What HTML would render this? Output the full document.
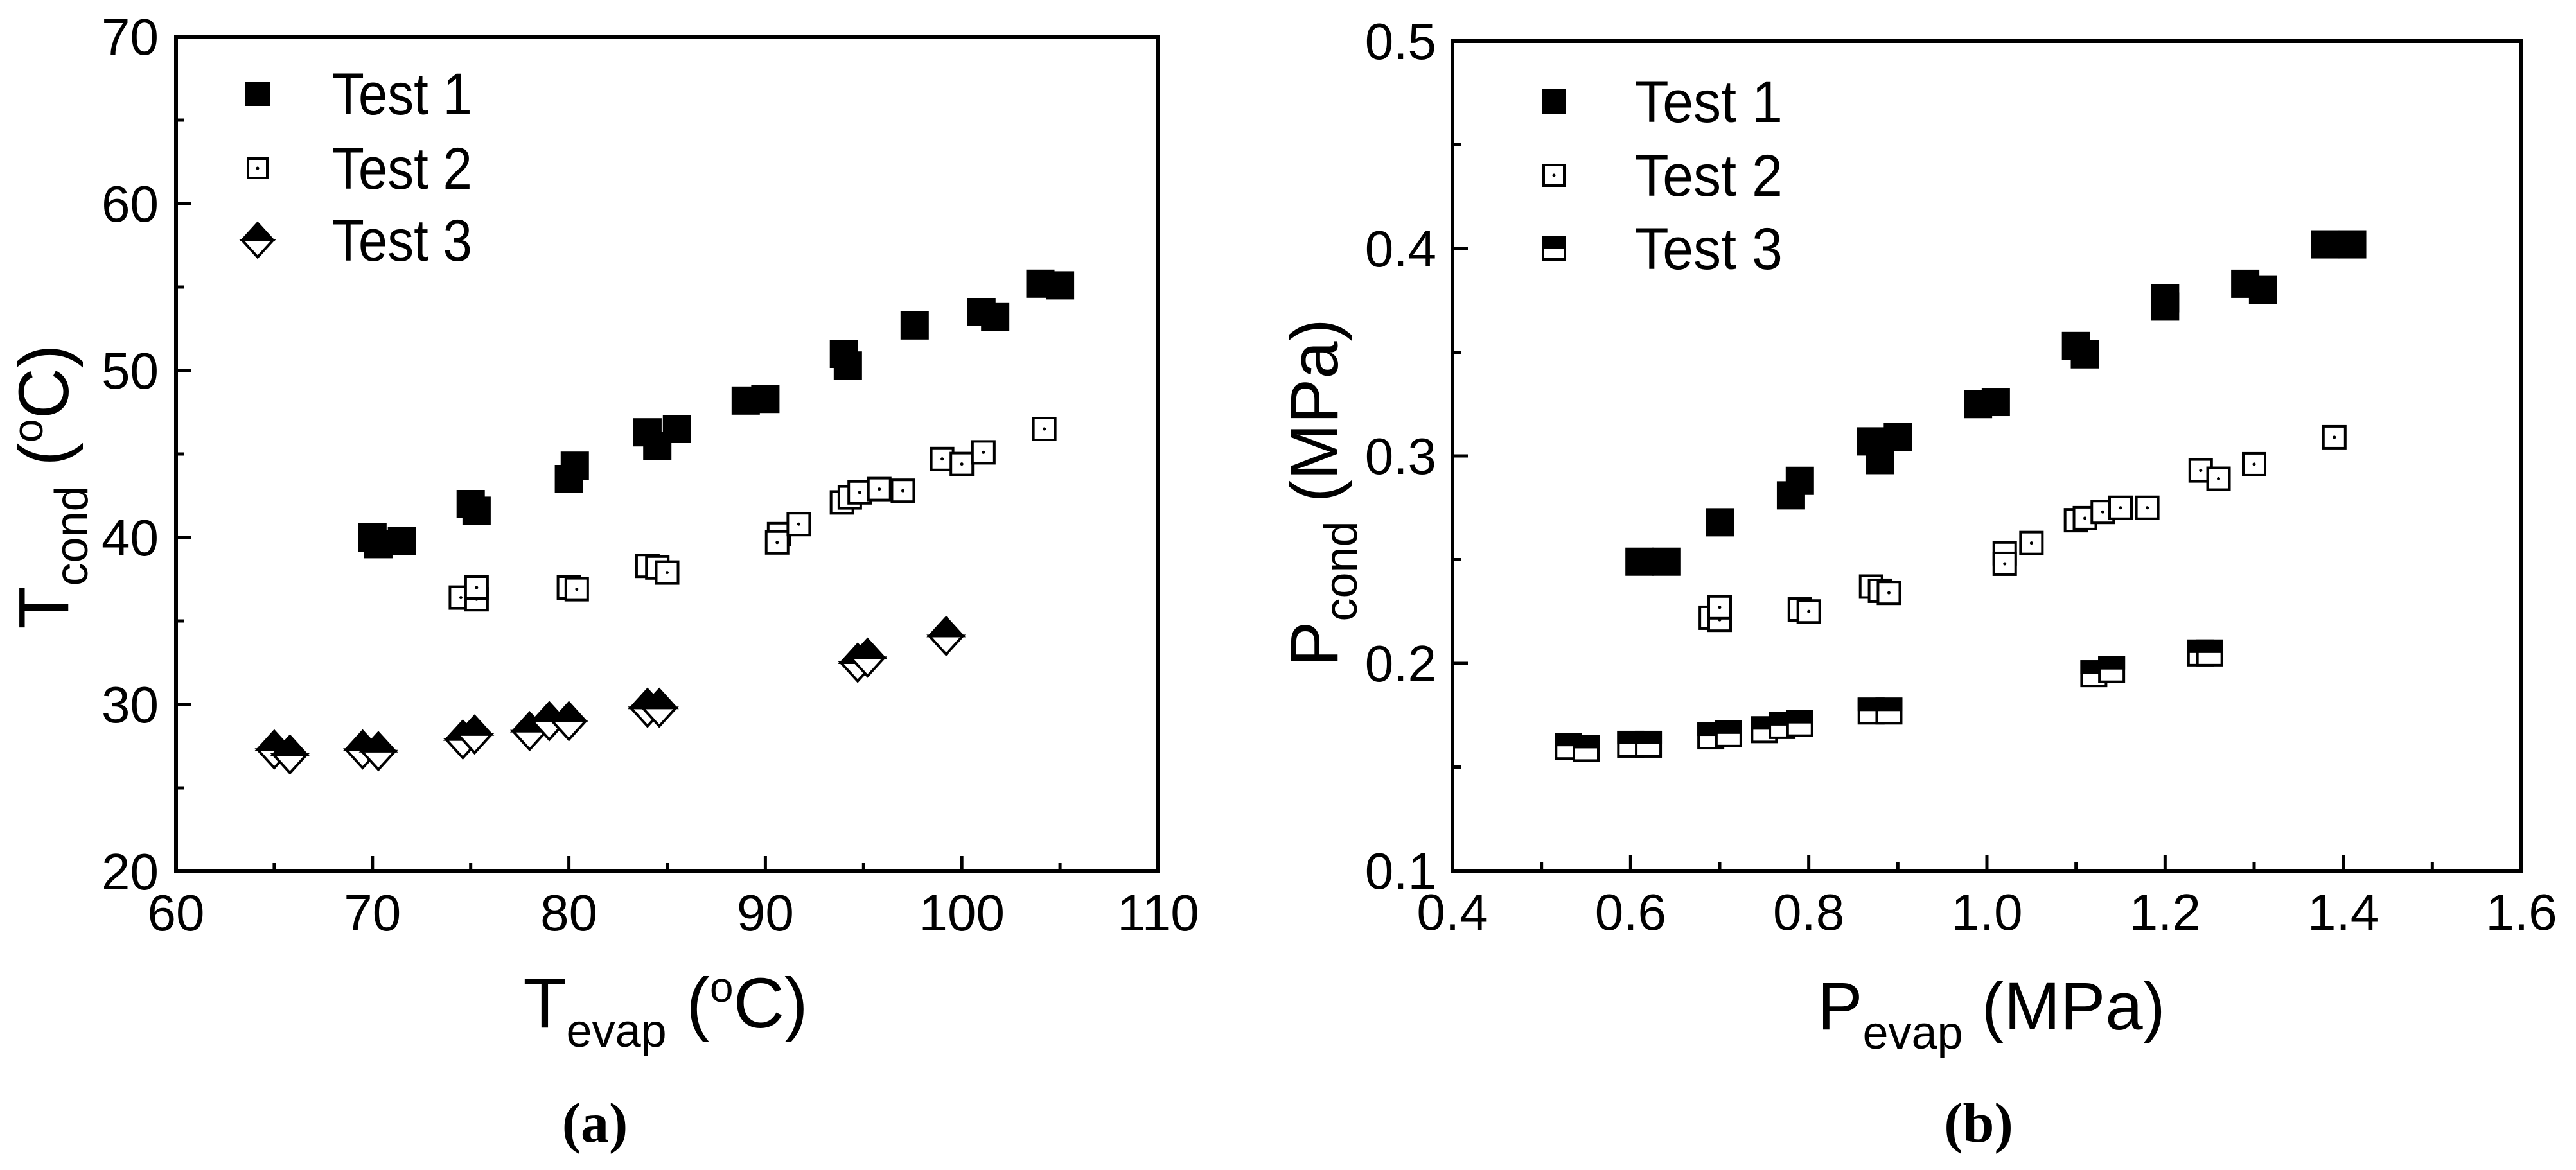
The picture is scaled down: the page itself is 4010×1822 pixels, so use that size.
<!DOCTYPE html>
<html><head><meta charset="utf-8"><style>
html,body{margin:0;padding:0;background:#fff;}
svg{display:block;}
text{font-family:"Liberation Sans",sans-serif;fill:#000;}
</style></head><body>
<svg id="fig" width="4010" height="1822" viewBox="0 0 4010 1822" xmlns="http://www.w3.org/2000/svg">
<g id="pa"></g>
<g id="pb"></g>
<text x="1036" y="1600" font-size="110" text-anchor="middle">T<tspan font-size="72" dy="30">evap</tspan><tspan dy="-30"> (</tspan><tspan font-size="66" dy="-40">o</tspan><tspan dy="40">C)</tspan></text>
<text transform="translate(106,758) rotate(-90)" font-size="110" text-anchor="middle">T<tspan font-size="72" dy="30">cond</tspan><tspan dy="-30"> (</tspan><tspan font-size="66" dy="-40">o</tspan><tspan dy="40">C)</tspan></text>
<text x="3100" y="1603" font-size="105" text-anchor="middle">P<tspan font-size="72" dy="30">evap</tspan><tspan dy="-30"> (MPa)</tspan></text>
<text transform="translate(2082,767) rotate(-90)" font-size="105" text-anchor="middle">P<tspan font-size="72" dy="30">cond</tspan><tspan dy="-30"> (MPa)</tspan></text>
<text x="926" y="1778" font-size="88" font-weight="bold" text-anchor="middle" style="font-family:'Liberation Serif',serif">(a)</text>
<text x="3080" y="1778" font-size="88" font-weight="bold" text-anchor="middle" style="font-family:'Liberation Serif',serif">(b)</text>
</svg>
<script>
// Panel (a) data
const aT1x=[70,70.3,71.5,75,75.3,80,80.3,84,84.5,85.5,89,90,94,94.2,97.6,101,101.7,104,105];
const aT1y=[40,39.6,39.8,42,41.6,43.5,44.3,46.3,45.5,46.5,48.2,48.3,51,50.3,52.7,53.5,53.2,55.2,55.1];
const aT2x=[74.5,75.3,75.3,80,80.4,84,84.5,85,90.7,90.6,91.7,93.9,94.3,94.8,95.8,97,99,100,101.1,104.2];
const aT2y=[36.4,36.3,37,37,36.9,38.3,38.2,37.9,40.2,39.7,40.8,42.1,42.4,42.7,42.9,42.8,44.7,44.4,45.1,46.5];
const aT3x=[65,65.8,69.5,70.3,74.6,75.2,78,79,80,84,84.6,94.7,95.2,99.2];
const aT3y=[27.3,27,27.3,27.2,27.9,28.2,28.4,29,29,29.8,29.8,32.5,32.8,34.1];
const aXTicks=[60,70,80,90,100,110];
const aYTicks=[20,30,40,50,60,70];
// Panel (b) data
const bT1x=[0.61,0.64,0.70,0.78,0.79,0.87,0.88,0.90,0.99,1.01,1.10,1.11,1.20,1.20,1.29,1.31,1.38,1.41];
const bT1y=[0.249,0.249,0.268,0.281,0.288,0.307,0.298,0.309,0.325,0.326,0.353,0.349,0.372,0.376,0.383,0.380,0.402,0.402];
const bT2x=[0.69,0.70,0.70,0.79,0.80,0.87,0.88,0.89,1.02,1.02,1.05,1.10,1.11,1.13,1.15,1.18,1.24,1.26,1.30,1.39];
const bT2y=[0.222,0.221,0.227,0.226,0.225,0.237,0.235,0.234,0.253,0.248,0.258,0.269,0.270,0.273,0.275,0.275,0.293,0.289,0.296,0.309];
const bT3x=[0.53,0.55,0.60,0.62,0.69,0.71,0.75,0.77,0.79,0.87,0.89,1.12,1.14,1.24,1.25];
const bT3y=[0.160,0.159,0.161,0.161,0.165,0.166,0.168,0.170,0.171,0.177,0.177,0.195,0.197,0.205,0.205];
const bXTicks=["0.4","0.6","0.8","1.0","1.2","1.4","1.6"];
const bYTicks=["0.1","0.2","0.3","0.4","0.5"];
const legendLabels=["Test 1","Test 2","Test 3"];

const NS="http://www.w3.org/2000/svg";
function mk(tag,attrs,parent){const e=document.createElementNS(NS,tag);for(const k in attrs)e.setAttribute(k,attrs[k]);parent.appendChild(e);return e;}

function sq(g,cx,cy,s,type){
  if(type==='fill'){mk('rect',{x:cx-s/2,y:cy-s/2,width:s,height:s,fill:'#000'},g);}
  else if(type==='dot'){mk('rect',{x:cx-s/2+2,y:cy-s/2+2,width:s-4,height:s-4,fill:'#fff',stroke:'#000','stroke-width':4},g);mk('circle',{cx:cx,cy:cy,r:2.5,fill:'#000'},g);}
  else if(type==='half'){mk('rect',{x:cx-s/2+2,y:cy-s/2+2,width:s-4,height:s-4,fill:'#fff',stroke:'#000','stroke-width':4},g);mk('rect',{x:cx-s/2,y:cy-s/2,width:s,height:s/2,fill:'#000'},g);}
  else if(type==='diamond'){const h=s/2;mk('path',{d:`M${cx-h} ${cy} L${cx} ${cy+h*1.1} L${cx+h} ${cy} Z`,fill:'#fff',stroke:'#000','stroke-width':4},g);mk('path',{d:`M${cx-h} ${cy} L${cx} ${cy-h*1.1} L${cx+h} ${cy} Z`,fill:'#000',stroke:'#000','stroke-width':4},g);}
}

function panel(gid,cfg){
  const g=document.getElementById(gid);
  const {L,R,T,B,xmin,xmax,ymin,ymax}=cfg;
  const X=v=>L+(v-xmin)/(xmax-xmin)*(R-L);
  const Y=v=>B-(v-ymin)/(ymax-ymin)*(B-T);
  const frame=mk('rect',{x:L,y:T,width:R-L,height:B-T,fill:'none',stroke:'#000','stroke-width':6},g);
  
  
  cfg.xt.forEach((t,i)=>{const v=parseFloat(t);const x=X(v);
    mk('line',{x1:x,x2:x,y1:B,y2:B-24,stroke:'#000','stroke-width':5},g);
    if(i<cfg.xt.length-1){const xm=X(v+cfg.xstep/2);mk('line',{x1:xm,x2:xm,y1:B,y2:B-13,stroke:'#000','stroke-width':5},g);}
    const tx=mk('text',{x:x,y:B+92,'font-size':80,'text-anchor':'middle'},g);tx.textContent=t;
    
    
  });
  cfg.yt.forEach((t,i)=>{const v=parseFloat(t);const y=Y(v);
    mk('line',{x1:L,x2:L+24,y1:y,y2:y,stroke:'#000','stroke-width':5},g);
    if(i<cfg.yt.length-1){const ym=Y(v+cfg.ystep/2);mk('line',{x1:L,x2:L+13,y1:ym,y2:ym,stroke:'#000','stroke-width':5},g);}
    const ty=mk('text',{x:cfg.ylx,y:y+28,'font-size':80,'text-anchor':'end'},g);ty.textContent=t;
    
    
  });
  cfg.series.forEach((s,si)=>{
    const sg=mk('g',{},g);
    
    
    s.x.forEach((xv,i)=>sq(sg,X(xv),Y(s.y[i]),s.size,s.type));
    const lg=mk('g',{},g);
    
    
    sq(lg,cfg.legX,cfg.legY[si],s.lsize,s.type);
    const lt=mk('text',{x:cfg.legTX,y:cfg.legY[si]+32,'font-size':92,textLength:cfg.legW,lengthAdjust:'spacingAndGlyphs'},lg);
    lt.textContent=legendLabels[si];
  });
}

panel('pa',{L:274,R:1803,T:57,B:1357,xmin:60,xmax:110,ymin:20,ymax:70,xt:aXTicks.map(String),yt:aYTicks.map(String),xstep:10,ystep:10,ylx:247,
  legX:401,legY:[146,262,374],legTX:517,legW:218,
  series:[{x:aT1x,y:aT1y,size:44,lsize:38,type:'fill'},{x:aT2x,y:aT2y,size:38,lsize:34,type:'dot'},{x:aT3x,y:aT3y,size:52,lsize:48,type:'diamond'}]});
panel('pb',{L:2261,R:3925,T:64,B:1356,xmin:0.4,xmax:1.6,ymin:0.1,ymax:0.5,xt:bXTicks,yt:bYTicks,xstep:0.2,ystep:0.1,ylx:2236,
  legX:2419,legY:[158,273,387],legTX:2545,legW:230,
  series:[{x:bT1x,y:bT1y,size:44,lsize:38,type:'fill'},{x:bT2x,y:bT2y,size:38,lsize:36,type:'dot'},{x:bT3x,y:bT3y,size:42,lsize:38,type:'half'}]});
</script>
</body></html>
